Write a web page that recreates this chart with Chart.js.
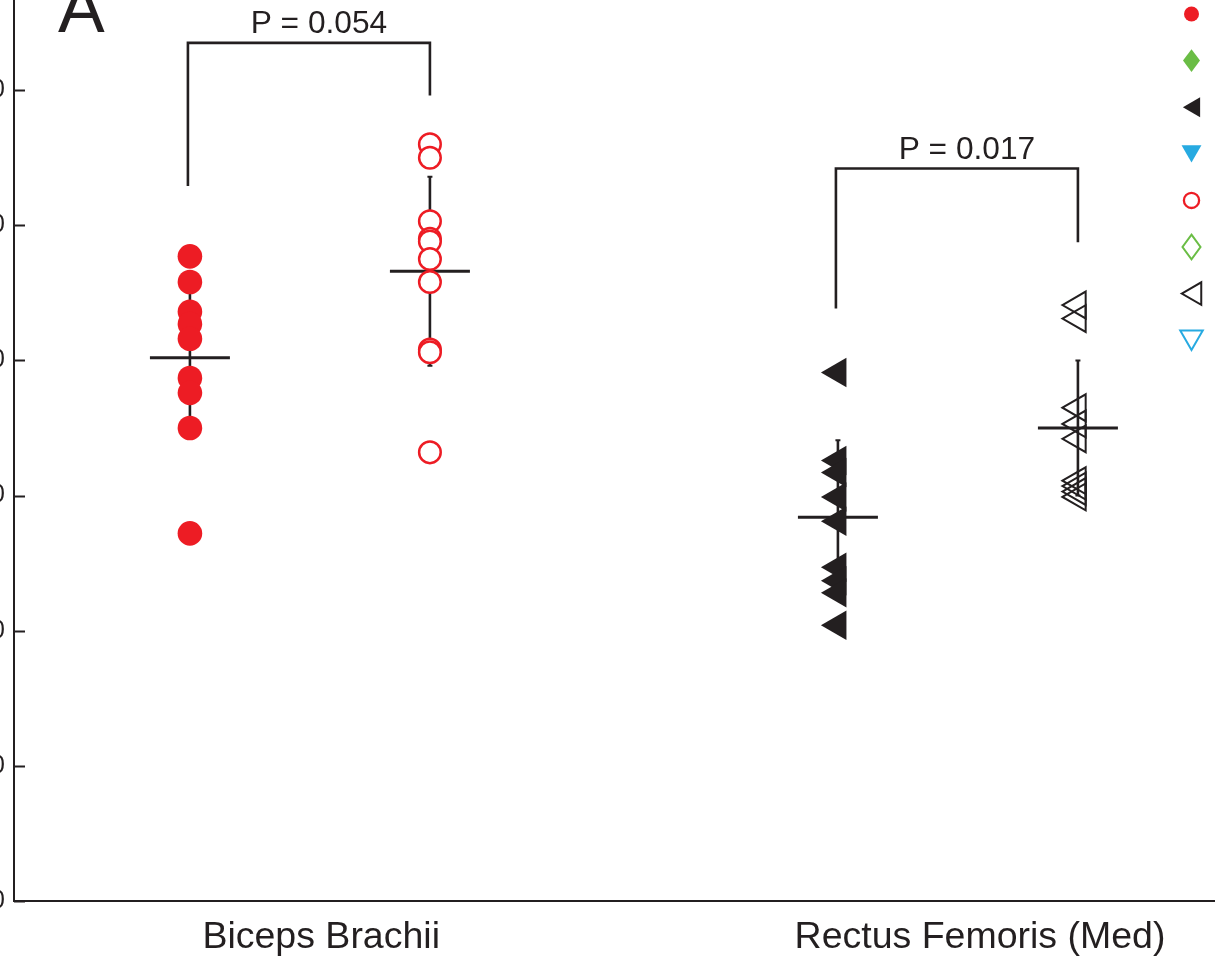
<!DOCTYPE html>
<html>
<head>
<meta charset="utf-8">
<style>
  html, body { margin: 0; padding: 0; background: #fff; overflow: hidden; width: 1217px; height: 962px; position: relative; }
  #wrap { position: absolute; left: -60px; top: -80px; width: 1277px; height: 1042px; }
  canvas { display: block; }
</style>
<script src="https://cdn.jsdelivr.net/npm/chart.js@4/dist/chart.umd.min.js"></script>
</head>
<body>
<div id="wrap"><canvas id="c" width="1277" height="1042"></canvas></div>
<script>
// ---- data ----
const categories = ['Biceps Brachii', 'Rectus Femoris (Med)'];
const categoryLabelX = [1.28, 4.025];
const columnX = [0.733, 1.733, 3.433, 4.433];      // filled / open column of each muscle
const yTicks = [0, 10, 20, 30, 40, 50, 60, 70];

const bicepsFilled = [47.7, 45.8, 43.6, 42.7, 41.6, 38.7, 37.6, 35.0, 27.2];
const bicepsOpen   = [56.0, 55.0, 50.3, 49.0, 48.8, 47.5, 45.8, 40.8, 40.6, 33.2];
const rectusFilled = [39.1, 32.6, 31.7, 29.9, 28.1, 24.7, 23.7, 22.8, 20.4];
const rectusOpen   = [44.1, 43.1, 36.5, 35.3, 34.2, 31.1, 30.7, 30.3, 29.9];

const columnMean = [40.2, 46.6, 28.4, 35.0];
const columnSD   = [5.0, 7.0, 5.7, 5.0];

const pLabels       = ['P = 0.054', 'P = 0.017'];
const bracketTop    = [63.5, 54.2];
const bracketLeftY  = [52.9, 43.85];
const bracketRightY = [59.6, 48.75];

// ---- styling ----
const RED = '#ED1C24', GREEN = '#6ABD45', BLACK = '#231F20', BLUE = '#27AAE1';
const FONT = '"Liberation Sans", Arial, sans-serif';

const pts = (x, arr) => arr.map(v => ({ x: x, y: v }));

const datasets = [
  { label: 'Biceps Brachii', data: pts(columnX[0], bicepsFilled), pointStyle: 'circle', pointRadius: 12.3,
    backgroundColor: RED, borderColor: RED, borderWidth: 0,
    legendMarker: { shape: 'circle', r: 7.5, fill: RED } },
  { label: 'Series 2', data: [], pointStyle: 'rectRot', backgroundColor: GREEN,
    legendMarker: { shape: 'diamond', w: 8.5, h: 11.3, fill: GREEN } },
  { label: 'Rectus Femoris (Med)', data: pts(columnX[2], rectusFilled), pointStyle: 'triangle', rotation: -90,
    pointRadius: 17, backgroundColor: BLACK, borderColor: BLACK, borderWidth: 0,
    legendMarker: { shape: 'triLeft', r: 11.5, fill: BLACK } },
  { label: 'Series 4', data: [], pointStyle: 'triangle', rotation: 180, backgroundColor: BLUE,
    legendMarker: { shape: 'triDown', r: 11.5, fill: BLUE } },
  { label: 'Biceps Brachii (open)', data: pts(columnX[1], bicepsOpen), pointStyle: 'circle', pointRadius: 10.8,
    backgroundColor: '#ffffff', borderColor: RED, borderWidth: 2.5,
    legendMarker: { shape: 'circle', r: 7.6, stroke: RED, lw: 2.3 } },
  { label: 'Series 6', data: [], pointStyle: 'rectRot', borderColor: GREEN,
    legendMarker: { shape: 'diamond', w: 9, h: 12.3, stroke: GREEN, lw: 2 } },
  { label: 'Rectus Femoris (Med) (open)', data: pts(columnX[3], rectusOpen), pointStyle: 'triangle', rotation: -90,
    pointRadius: 15.5, backgroundColor: 'rgba(0,0,0,0)', borderColor: BLACK, borderWidth: 2,
    legendMarker: { shape: 'triLeft', r: 13, stroke: BLACK, lw: 2 } },
  { label: 'Series 8', data: [], pointStyle: 'triangle', rotation: 180, borderColor: BLUE,
    legendMarker: { shape: 'triDown', r: 13, stroke: BLUE, lw: 2 } }
];

function drawMarker(ctx, m, cx, cy) {
  ctx.save();
  ctx.beginPath();
  const s3 = Math.sqrt(3) / 2;
  if (m.shape === 'circle') {
    ctx.arc(cx, cy, m.r, 0, Math.PI * 2);
  } else if (m.shape === 'diamond') {
    ctx.moveTo(cx, cy - m.h); ctx.lineTo(cx + m.w, cy); ctx.lineTo(cx, cy + m.h); ctx.lineTo(cx - m.w, cy);
  } else if (m.shape === 'triLeft') {
    ctx.moveTo(cx - 0.75 * m.r, cy); ctx.lineTo(cx + 0.75 * m.r, cy - s3 * m.r); ctx.lineTo(cx + 0.75 * m.r, cy + s3 * m.r);
  } else if (m.shape === 'triDown') {
    ctx.moveTo(cx, cy + 0.75 * m.r); ctx.lineTo(cx - s3 * m.r, cy - 0.75 * m.r); ctx.lineTo(cx + s3 * m.r, cy - 0.75 * m.r);
  }
  ctx.closePath();
  if (m.fill) { ctx.fillStyle = m.fill; ctx.fill(); }
  if (m.stroke) { ctx.strokeStyle = m.stroke; ctx.lineWidth = m.lw; ctx.lineJoin = 'miter'; ctx.stroke(); }
  ctx.restore();
}

// mean line + SD whiskers, under the markers
const summaryPlugin = {
  id: 'summary',
  beforeDatasetsDraw(chart) {
    const { ctx, scales: { x, y } } = chart;
    ctx.save();
    ctx.strokeStyle = BLACK;
    columnX.forEach((cx, i) => {
      const px = x.getPixelForValue(cx);
      const yt = y.getPixelForValue(columnMean[i] + columnSD[i]);
      const yb = y.getPixelForValue(columnMean[i] - columnSD[i]);
      const ym = y.getPixelForValue(columnMean[i]);
      ctx.lineWidth = 2.6;
      ctx.beginPath(); ctx.moveTo(px, yt); ctx.lineTo(px, yb); ctx.stroke();
      ctx.lineWidth = 2;
      ctx.beginPath(); ctx.moveTo(px - 2.5, yt); ctx.lineTo(px + 2.5, yt); ctx.moveTo(px - 2.5, yb); ctx.lineTo(px + 2.5, yb); ctx.stroke();
      ctx.lineWidth = 3;
      ctx.beginPath(); ctx.moveTo(px - 40, ym); ctx.lineTo(px + 40, ym); ctx.stroke();
    });
    ctx.restore();
  }
};

// inward y ticks, significance brackets, panel letter and marker key
const decorPlugin = {
  id: 'decor',
  afterDraw(chart) {
    const { ctx, chartArea, scales: { x, y } } = chart;
    ctx.save();
    ctx.strokeStyle = BLACK;
    ctx.lineWidth = 2;
    y.ticks.forEach(t => {
      const py = Math.round(y.getPixelForValue(t.value)) + 0.5;
      ctx.beginPath(); ctx.moveTo(chartArea.left, py); ctx.lineTo(chartArea.left + 11, py); ctx.stroke();
    });

    ctx.lineWidth = 2.6;
    ctx.lineCap = 'butt';
    ctx.fillStyle = BLACK;
    ctx.font = '31.7px ' + FONT;
    ctx.textAlign = 'center';
    ctx.textBaseline = 'alphabetic';
    pLabels.forEach((txt, i) => {
      const x0 = x.getPixelForValue(columnX[2 * i]) - 2;
      const x1 = x.getPixelForValue(columnX[2 * i + 1]);
      const yt = y.getPixelForValue(bracketTop[i]);
      ctx.beginPath();
      ctx.moveTo(x0, y.getPixelForValue(bracketLeftY[i]));
      ctx.lineTo(x0, yt);
      ctx.lineTo(x1, yt);
      ctx.lineTo(x1, y.getPixelForValue(bracketRightY[i]));
      ctx.stroke();
      ctx.fillText(txt, (x0 + x1) / 2 + 10, yt - 10);
    });

    ctx.textAlign = 'left';
    ctx.font = '70px ' + FONT;
    ctx.fillText('A', 118, 112);

    chart.data.datasets.forEach((ds, i) => {
      drawMarker(ctx, ds.legendMarker, 1251.5, 94 + i * 46.6);
    });
    ctx.restore();
  }
};

Chart.defaults.font.family = FONT;
Chart.defaults.color = BLACK;

new Chart(document.getElementById('c'), {
  type: 'scatter',
  data: { datasets },
  options: {
    responsive: false,
    animation: false,
    events: [],
    devicePixelRatio: 1,
    layout: { autoPadding: false, padding: { left: 0, right: 3, top: 35, bottom: 0 } },
    plugins: { legend: { display: false }, tooltip: { enabled: false } },
    scales: {
      x: {
        type: 'linear', min: 0, max: 5,
        grid: { display: false, drawTicks: false },
        border: { display: true, color: BLACK, width: 2 },
        afterBuildTicks: s => { s.ticks = categoryLabelX.map(v => ({ value: v })); },
        afterFit: s => { s.height = 61; s.paddingLeft = 0; s.paddingRight = 0; },
        ticks: {
          autoSkip: false, maxRotation: 0, padding: 14,
          font: { size: 37.5 }, color: BLACK,
          callback: (v, i) => categories[i]
        }
      },
      y: {
        type: 'linear', min: 0, max: 70,
        grid: { display: false, drawTicks: false },
        border: { display: true, color: BLACK, width: 2 },
        afterBuildTicks: s => { s.ticks = yTicks.map(v => ({ value: v })); },
        afterFit: s => { s.width = 74; s.paddingTop = 0; s.paddingBottom = 0; },
        ticks: { padding: 9, font: { size: 25 }, color: BLACK }
      }
    }
  },
  plugins: [summaryPlugin, decorPlugin]
});
</script>
</body>
</html>
